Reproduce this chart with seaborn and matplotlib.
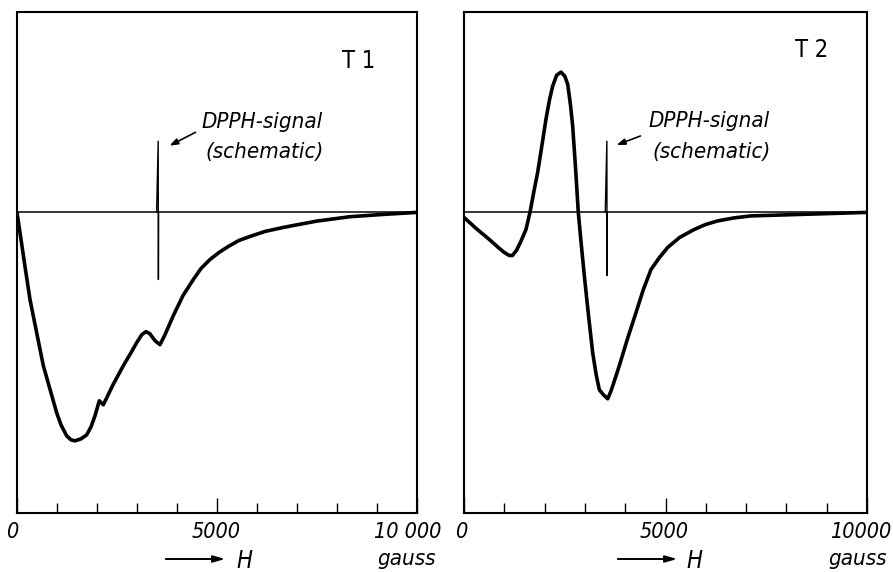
import matplotlib
matplotlib.use('Agg')
import matplotlib.pyplot as plt
import matplotlib.transforms as mtransforms
import seaborn as sns
import pandas as pd
from matplotlib.ticker import MultipleLocator

# Données (H en gauss, signal en unités arbitraires)
h_t1 = [0, 200, 325, 658, 992, 1100, 1242, 1350, 1450, 1600, 1742, 1850, 1950,
        2058, 2158, 2400, 2658, 2850, 2992, 3120, 3225, 3320, 3450, 3575, 3700,
        3908, 4150, 4408, 4600, 4825, 5050, 5283, 5550, 5825, 6200, 6658, 7050,
        7492, 8325, 9158, 10000]
v_t1 = [0, -0.54, -0.87, -1.53, -2.00, -2.12, -2.23, -2.27, -2.28, -2.26,
        -2.22, -2.14, -2.03, -1.88, -1.92, -1.72, -1.53, -1.40, -1.30, -1.22,
        -1.19, -1.21, -1.28, -1.32, -1.22, -1.03, -0.83, -0.67, -0.56, -0.47,
        -0.40, -0.34, -0.28, -0.24, -0.19, -0.15, -0.12, -0.087, -0.043,
        -0.02, 0]

h_t2 = [0, 300, 628, 850, 1000, 1124, 1200, 1300, 1400, 1538, 1637, 1730, 1828,
        1930, 2034, 2120, 2200, 2300, 2407, 2500, 2573, 2640, 2697, 2770, 2836,
        2910, 2985, 3090, 3193, 3280, 3358, 3460, 3566, 3640, 3700, 3854, 4050,
        4268, 4450, 4640, 4850, 5054, 5350, 5715, 6000, 6294, 6700, 7122, 8362,
        10000]
v_t2 = [-0.05, -0.16, -0.27, -0.35, -0.40, -0.43, -0.43, -0.38, -0.30, -0.17,
        0, 0.20, 0.40, 0.66, 0.93, 1.12, 1.26, 1.37, 1.40, 1.36, 1.28, 1.08,
        0.86, 0.43, 0, -0.32, -0.63, -1.03, -1.40, -1.62, -1.77, -1.82, -1.86,
        -1.79, -1.72, -1.53, -1.27, -1.00, -0.77, -0.57, -0.45, -0.35, -0.25,
        -0.17, -0.12, -0.085, -0.055, -0.035, -0.02, 0]

# Signal DPPH (schématique)
h_dpph_t1 = [3490, 3530, 3535, 3540]
v_dpph_t1 = [0, 0.71, -0.67, 0]
h_dpph_t2 = [3505, 3545, 3550, 3555]
v_dpph_t2 = [0, 0.71, -0.63, 0]

panel_labels = ['T 1', 'T 2']
tick_values = [0, 5000, 10000]
tick_labels = [['0', '5000', '10 000'], ['0', '5000', '10000']]
# décalage horizontal des étiquettes (px), comme sur l'original
tick_shift = [[-5, -1, -9], [-3, -1, -6]]

sns.set_theme(style='white')
plt.rcParams['font.family'] = ['DejaVu Sans']
plt.rcParams['font.stretch'] = 'condensed'
plt.rcParams['text.color'] = 'black'
plt.rcParams['xtick.color'] = 'black'

W, H = 893, 572
fig = plt.figure(figsize=(W / 100, H / 100), dpi=100)
ax1 = fig.add_axes([17 / W, 59 / H, 400 / W, 501 / H])
ax2 = fig.add_axes([464 / W, 59 / H, 403 / W, 501 / H])

panels = [(ax1, h_t1, v_t1, h_dpph_t1, v_dpph_t1),
          (ax2, h_t2, v_t2, h_dpph_t2, v_dpph_t2)]

for i, (ax, hx, vy, hd, vd) in enumerate(panels):
    df = pd.DataFrame({'H': hx, 'v': vy})
    dd = pd.DataFrame({'H': hd, 'v': vd})
    ax.axhline(0, color='black', lw=1.1, zorder=1)
    sns.lineplot(data=df, x='H', y='v', ax=ax, color='black', lw=2.6,
                 sort=False, estimator=None)
    sns.lineplot(data=dd, x='H', y='v', ax=ax, color='black', lw=1.0,
                 sort=False, estimator=None)
    ax.set_xlim(0, 10000)
    ax.set_ylim(-3.0, 2.0)
    ax.set_xlabel('')
    ax.set_ylabel('')
    ax.set_yticks([])
    ax.set_xticks(tick_values)
    ax.set_xticklabels([])
    ax.xaxis.set_minor_locator(MultipleLocator(1000))
    ax.tick_params(axis='x', which='major', direction='in', length=11,
                   width=1.0, color='black', bottom=True)
    ax.tick_params(axis='x', which='minor', direction='in', length=7.5,
                   width=1.0, color='black', bottom=True)
    # étiquettes placées à la main (décalées comme sur l'original)
    for val, lab, dx in zip(tick_values, tick_labels[i], tick_shift[i]):
        tr = ax.get_xaxis_transform() + mtransforms.ScaledTranslation(
            dx / 100, -0.19, fig.dpi_scale_trans)
        ax.text(val, 0, lab, transform=tr, fontsize=15.5, style='italic',
                ha='center', va='center', clip_on=False)
    for s in ax.spines.values():
        s.set_color('black')
        s.set_linewidth(1.5)

# Étiquettes des panneaux
fig.text(359 / W, 1 - 61 / H, panel_labels[0], fontsize=17, ha='center', va='center')
fig.text(812 / W, 1 - 50 / H, panel_labels[1], fontsize=17, ha='center', va='center')

# Annotations DPPH
for (tx, ty1, ty2, ax_start, ay_start, ax_end, ay_end) in [
        (201, 122, 152, 198, 131, 167, 147),
        (648, 121, 152, 643, 135, 614, 146)]:
    fig.text(tx / W, 1 - ty1 / H, 'DPPH-signal', fontsize=16, style='italic',
             ha='left', va='center')
    fig.text((tx + 4) / W, 1 - ty2 / H, '(schematic)', fontsize=16, style='italic',
             ha='left', va='center')
    fig.add_artist(matplotlib.patches.FancyArrowPatch(
        (ax_start / W, 1 - ay_start / H), (ax_end / W, 1 - ay_end / H),
        transform=fig.transFigure, arrowstyle='-|>,head_length=5,head_width=1.8',
        color='black', lw=1.2))

# Axe H et unité
for (x0, x1, xh, xg) in [(163, 228, 244, 407), (615, 680, 694, 858)]:
    fig.add_artist(matplotlib.patches.FancyArrowPatch(
        (x0 / W, 1 - 559 / H), (x1 / W, 1 - 559 / H),
        transform=fig.transFigure, arrowstyle='-|>,head_length=7,head_width=2',
        color='black', lw=1.4))
    fig.text(xh / W, 1 - 561 / H, 'H', fontsize=17, style='italic',
             ha='center', va='center')
    fig.text(xg / W, 1 - 559 / H, 'gauss', fontsize=16, style='italic',
             ha='center', va='center')

fig.savefig('out.png', dpi=100)
